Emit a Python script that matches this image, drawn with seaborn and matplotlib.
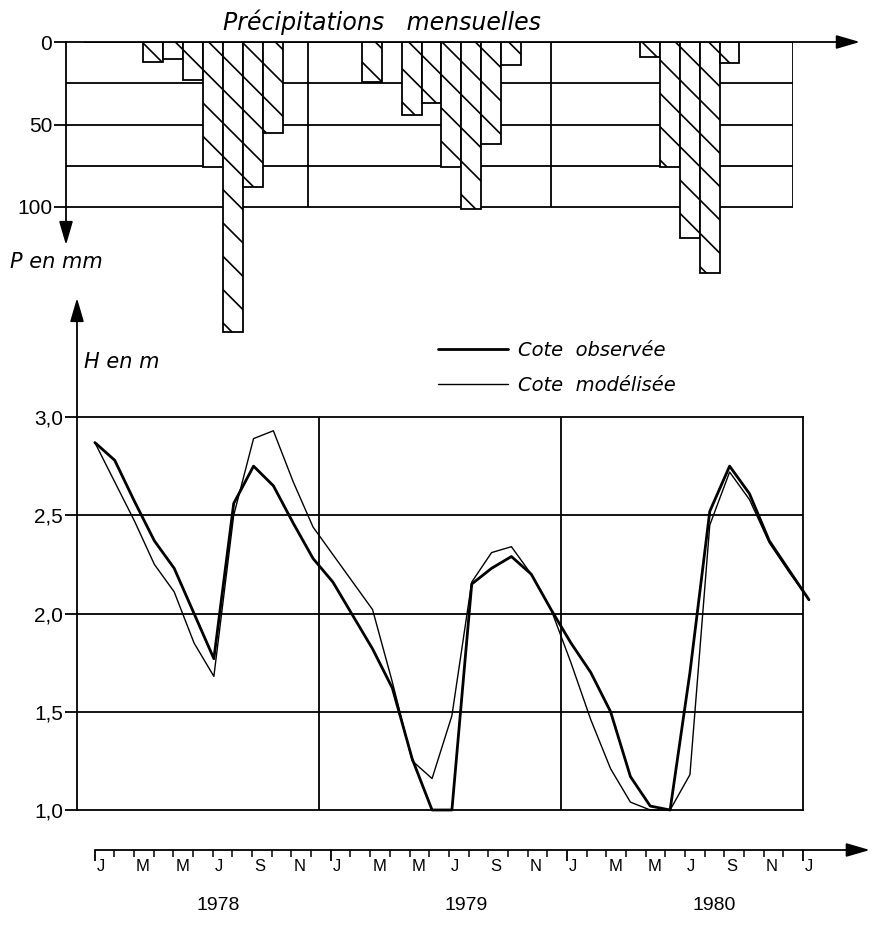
# Précipitations mensuelles et cote observée / modélisée (1978-1980)
import numpy as np
import matplotlib
matplotlib.use('Agg')
import matplotlib.pyplot as plt
from matplotlib.lines import Line2D
import seaborn as sns

# Données (mois 0 = janvier 1978)
mois = np.arange(37)
cote_observee = [2.87, 2.78, 2.57, 2.37, 2.23, 2.00, 1.77, 2.56, 2.75, 2.65, 2.46, 2.28,
                 2.16, 1.99, 1.82, 1.62, 1.26, 1.00, 1.00, 2.15, 2.23, 2.29, 2.20, 2.02,
                 1.85, 1.70, 1.50, 1.17, 1.02, 1.00, 1.70, 2.52, 2.75, 2.61, 2.37, 2.22,
                 2.07]
cote_modelisee = [2.87, 2.67, 2.47, 2.25, 2.11, 1.85, 1.68, 2.50, 2.89, 2.93, 2.67, 2.44,
                  2.30, 2.16, 2.02, 1.65, 1.25, 1.16, 1.48, 2.16, 2.31, 2.34, 2.20, 2.02,
                  1.75, 1.46, 1.21, 1.04, 1.00, 1.00, 1.18, 2.45, 2.72, 2.58, 2.36, 2.21,
                  2.07]
mois_p = np.arange(36)
precip_mm = [0, 0, 0, 12, 10, 23, 76, 176, 88, 55, 0, 0,
             0, 0, 24, 0, 44, 37, 76, 101, 62, 14, 0, 0,
             0, 0, 0, 0, 9, 76, 119, 140, 13, 0, 0, 0]
lettres_mois = ['J', 'M', 'M', 'J', 'S', 'N']
annees = ['1978', '1979', '1980']
ticks_h = [1.0, 1.5, 2.0, 2.5, 3.0]
labels_h = ['1,0', '1,5', '2,0', '2,5', '3,0']

sns.set_theme(style='white', rc={'axes.edgecolor': 'black', 'hatch.linewidth': 1.2,
                                 'text.color': 'black', 'xtick.color': 'black',
                                 'ytick.color': 'black'})
plt.rcParams['font.family'] = ['Liberation Sans', 'DejaVu Sans']

W, H = 874, 933
def boite(x0, y0, x1, y1):
    return [x0 / W, 1 - y1 / H, (x1 - x0) / W, (y1 - y0) / H]

fig = plt.figure(figsize=(W / 100, H / 100), dpi=100)
ax_p = fig.add_axes(boite(66, 42, 793, 342))
ax_h = fig.add_axes(boite(77, 417, 803, 810))
ax_m = fig.add_axes(boite(77, 849, 803, 850))

limites_x = (-0.9, 35.7)
bords_annees = [11.3, 23.5, 35.7]
lw = 1.3
fleche = dict(arrowstyle='-|>,head_length=1.2,head_width=0.35', color='black',
              lw=lw, shrinkA=0, shrinkB=0)
italique = dict(family=['DejaVu Sans'], style='italic')

# --- Précipitations ---
ax_p.set_xlim(limites_x)
ax_p.set_ylim(300 / 1.65, 0)
for s in ax_p.spines.values():
    s.set_visible(False)
ax_p.patch.set_visible(False)
ax_p.hlines([25, 50, 75, 100], *limites_x, color='black', lw=lw, zorder=1)
ax_p.vlines(bords_annees, 0, 100, color='black', lw=lw, zorder=1)
ax_p.bar(mois_p, precip_mm, width=1, align='edge', color='white', edgecolor='black',
         hatch='\\', linewidth=lw, zorder=3)
ax_p.set_xticks([])
ax_p.set_yticks([0, 50, 100], labels=['0', '50', '100'])
ax_p.tick_params(axis='y', left=True, length=9, width=lw, labelsize=15, pad=1)
ax_p.annotate('', xy=(1.092, 1), xytext=(0, 1), xycoords='axes fraction',
              arrowprops=fleche, annotation_clip=False)
ax_p.annotate('', xy=(0, 1 - 203 / 300), xytext=(0, 1), xycoords='axes fraction',
              arrowprops=fleche, annotation_clip=False)
fig.text(382 / W, 1 - 22 / H, 'Précipitations   mensuelles', ha='center', va='center',
         fontsize=17, **italique)
fig.text(10 / W, 1 - 262 / H, 'P en mm', ha='left', va='center', fontsize=15, **italique)

# --- Cotes ---
ax_h.set_xlim(limites_x)
ax_h.set_ylim(1, 3)
for s in ax_h.spines.values():
    s.set_visible(True)
    s.set_linewidth(lw)
    s.set_color('black')
ax_h.hlines([1.5, 2.0, 2.5], *limites_x, color='black', lw=lw, zorder=1)
ax_h.vlines(bords_annees[:2], 1, 3, color='black', lw=lw, zorder=1)
sns.lineplot(x=mois, y=cote_observee, ax=ax_h, color='black', linewidth=2.0,
             zorder=4, clip_on=False)
sns.lineplot(x=mois, y=cote_modelisee, ax=ax_h, color='black', linewidth=1.0,
             zorder=4, clip_on=False)
ax_h.set_xticks([])
ax_h.set_yticks(ticks_h, labels=labels_h)
ax_h.tick_params(axis='y', left=True, length=9, width=lw, labelsize=15, pad=1)
ax_h.set_xlabel('')
ax_h.set_ylabel('')
ax_h.annotate('', xy=(0, 1 + 119 / 393), xytext=(0, 1), xycoords='axes fraction',
              arrowprops=fleche, annotation_clip=False)
fig.text(84 / W, 1 - 362 / H, 'H en m', ha='left', va='center', fontsize=15, **italique)

poignees = [Line2D([], [], color='black', lw=2.0), Line2D([], [], color='black', lw=1.0)]
fig.legend(poignees, ['Cote  observée', 'Cote  modélisée'], loc='center left',
           bbox_to_anchor=(438 / W, 1 - 368 / H), frameon=False, handlelength=3.6,
           handletextpad=0.5, labelspacing=0.8, borderpad=0, borderaxespad=0,
           prop=dict(family='DejaVu Sans', style='italic', size=14))

# --- Axe des mois ---
ax_m.set_xlim(limites_x)
ax_m.set_ylim(0, 1)
for s in ax_m.spines.values():
    s.set_visible(False)
ax_m.patch.set_visible(False)
ax_m.set_yticks([])
ax_m.set_xticks([0, 12, 24, 36])
ax_m.set_xticks(mois, minor=True)
ax_m.tick_params(axis='x', which='major', bottom=True, length=8, width=lw,
                 labelbottom=False)
ax_m.tick_params(axis='x', which='minor', bottom=True, length=5, width=1.1,
                 labelbottom=False)
debut = (0 - limites_x[0]) / (limites_x[1] - limites_x[0])
ax_m.annotate('', xy=(1.092, 0), xytext=(debut, 0), xycoords='axes fraction',
              arrowprops=fleche, annotation_clip=False)
for k in range(0, 37, 2):
    ax_m.annotate(lettres_mois[(k % 12) // 2], xy=(k, 0), xycoords=('data', 'axes fraction'),
                  xytext=(2, -9), textcoords='offset pixels', ha='left', va='top',
                  fontsize=12)
for x, annee in zip([6.3, 18.9, 31.5], annees):
    ax_m.annotate(annee, xy=(x, 0), xycoords=('data', 'axes fraction'),
                  xytext=(0, -55), textcoords='offset pixels', ha='center', va='center',
                  fontsize=14)

fig.savefig('out.png', dpi=100)
